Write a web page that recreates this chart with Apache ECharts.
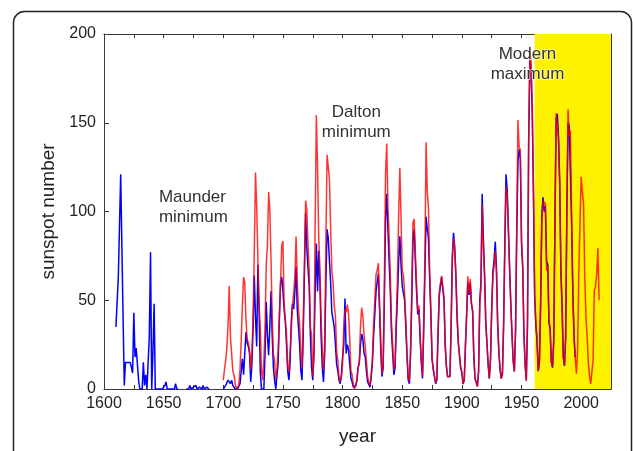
<!DOCTYPE html>
<html><head><meta charset="utf-8">
<script src="https://cdn.jsdelivr.net/npm/echarts@6/dist/echarts.min.js"></script>
<style>html,body{margin:0;padding:0;background:#fff}#c{width:633px;height:451px}</style>
</head><body><div id="c"></div>
<script>
// ---- data ----
const redStartYear = 1700;
const redValues = [
5,11,16,23,36,58,29,20,10,8,
3,0,0,2,11,27,47,63,60,39,
28,26,22,11,21,40,78,122,103,73,
47,35,11,5,16,34,70,81,111,101,
73,40,20,16,5,11,22,40,60,80.9,
83.4,47.7,47.8,30.7,12.2,9.6,10.2,32.4,47.6,54.0,
62.9,85.9,61.2,45.1,36.4,20.9,11.4,37.8,69.8,106.1,
100.8,81.6,66.5,34.8,30.6,7.0,19.8,92.5,154.4,125.9,
84.8,68.1,38.5,22.8,10.2,24.1,82.9,132.0,130.9,118.1,
89.9,66.6,60.0,46.9,41.0,21.3,16.0,6.4,4.1,6.8,
14.5,34.0,45.0,43.1,47.5,42.2,28.1,10.1,8.1,2.5,
0.0,1.4,5.0,12.2,13.9,35.4,45.8,41.1,30.1,23.9,
15.6,6.6,4.0,1.8,8.5,16.6,36.3,49.6,64.2,67.0,
70.9,47.8,27.5,8.5,13.2,56.9,121.5,138.3,103.2,85.7,
64.6,36.7,24.2,10.7,15.0,40.1,61.5,98.5,124.7,96.3,
66.6,64.5,54.1,39.0,20.6,6.7,4.3,22.7,54.8,93.8,
95.8,77.2,59.1,44.0,47.0,30.5,16.3,7.3,37.6,74.0,
139.0,111.2,101.6,66.2,44.7,17.0,11.3,12.4,3.4,6.0,
32.3,54.3,59.7,63.7,63.5,52.2,25.4,13.1,6.8,6.3,
7.1,35.6,73.0,85.1,78.0,64.0,41.8,26.2,26.7,12.1,
9.5,2.7,5.0,24.4,42.0,63.5,53.8,62.0,48.5,43.9,
18.6,5.7,3.6,1.4,9.6,47.4,57.1,103.9,80.6,63.6,
37.6,26.1,14.2,5.8,16.7,44.3,63.9,69.0,77.8,64.9,
35.7,21.2,11.1,5.7,8.7,36.1,79.7,114.4,109.6,88.8,
67.8,47.5,30.6,16.3,9.6,33.2,92.6,151.6,136.3,134.7,
83.9,69.4,31.5,13.9,4.4,38.0,141.7,190.2,184.8,159.0,
112.3,53.9,37.6,27.9,10.2,15.1,47.0,93.8,105.9,105.5,
104.5,66.6,68.9,38.0,34.5,15.5,12.6,27.5,92.5,155.4,
154.6,140.4,115.9,66.6,45.9,17.9,13.4,29.4,100.2,157.6,
142.6,145.7,94.3,54.6,29.9,17.5,8.6,21.5,64.3,93.3,
119.6,111.0,104.0,63.7,40.4,29.8,15.2,7.5,2.9,3.1,
16.5,55.7,57.6,64.7,79.3,50
];
const blueStartYear = 1610;
const blueValues = [
35,34,63,92,121,80,40,2,15,15,
15,15,15,15,9,43,18,23,24,5,
0,0,0,15,2,8,0,0,30,77,
0,20,48,0,0,0,0,0,0,0,
0,2,4,0,0,0,0,0,0,0,
3,0,0,null,null,null,null,null,null,0,
0,0,2,0,0,1,0,2,0,0,
1,0,0,2,0,0,1,0,0,null,
null,null,null,null,null,null,null,null,null,null,
0,1,2,3,5,5,3,5,2,1,
0,0,0,0,3,10,17,8,20,32,
26,24,20,4,14,35,64,40,24,70,
45,10,0,0,0,20,49,30,19,35,
55,30,12,5,0,0,15,40,60,63,
55,45,38,25,10,5,15,38,48,45,
55,69,45,35,25,10,5,30,65,99,
80,68,58,30,12,5,20,55,82,55,
78,60,30,12,4,20,60,90,85,72,
60,43,42,35,25,14,10,5,3,8,
18,25,51,20,25,22,14,6,4,1,
0,2,5,12,15,25,31,28,20,18,
10,4,3,1,7,15,30,42,55,60,
65,45,22,7,12,50,95,110,90,72,
55,32,20,8,12,35,52,72,86,70,
58,58,50,35,18,5,3,20,50,85,
90,72,55,42,45,28,15,6,33,65,
97,90,85,62,42,17,11,12,3,5,
30,52,58,63,62,50,25,13,7,6,
7,36,75,88,80,63,40,26,25,12,
9,3,5,25,42,60,53,60,48,44,
19,6,4,1.5,10,50,60,110,85,65,
38,26,14,6,17,45,66,73,83,68,
37,21,11,6,9,37,82,121,112,90,
68,48,31,16,10,33,88,128,135,130,
82,68,31,14,5,37,140,185,180,155,
110,52,36,27,10,15,48,98,108,100,
103,72,70,38,33,15,12,27,92,152,
155,142,116,67,46,18,13,29,100,150,
148,147,94,55,30,18
];
const xTickLabels = [1600,1650,1700,1750,1800,1850,1900,1950,2000];
const yTickLabels = [0,50,100,150,200];
const modernPeriod = [1961, 2025];
const notes = [
  {lines:['Maunder','minimum'], year:1646, value:102.5, align:'left'},
  {lines:['Dalton','minimum'], year:1811.5, value:150.5, align:'center'},
  {lines:['Modern','maximum'], year:1955, value:183, align:'center'}
];

// ---- build ----
const redData = redValues.map((v,i)=>[redStartYear+i, v]);
const blueData = blueValues.map((v,i)=>[blueStartYear+i, v]);
const FONT = '"Liberation Sans", Arial, sans-serif';
const axisColor = '#3a3a3a';
const chart = echarts.init(document.getElementById('c'), null, {renderer:'canvas'});
const xLabelFmt = v => xTickLabels.indexOf(v) >= 0 ? String(v) : '';
const yLabelFmt = v => yTickLabels.indexOf(v) >= 0 ? String(v) : '';
const xBase = {type:'value', min:1600, max:2025, interval:25, splitLine:{show:false},
  axisLine:{show:true, onZero:false, lineStyle:{color:axisColor, width:1}},
  axisTick:{show:true, inside:true, length:4, lineStyle:{color:axisColor}}};
const yBase = {type:'value', min:0, max:200, interval:50, splitLine:{show:false},
  axisLine:{show:true, lineStyle:{color:axisColor, width:1}},
  axisTick:{show:true, inside:true, length:5, lineStyle:{color:axisColor}}};
chart.setOption({
  animation:false,
  backgroundColor:'#fff',
  grid:{left:104, right:22, top:34, bottom:55, containLabel:false},
  xAxis:[
    Object.assign({}, xBase, {position:'bottom', name:'year', nameLocation:'middle', nameGap:38,
      nameTextStyle:{fontSize:19, color:'#222', fontFamily:FONT},
      axisLabel:{formatter:xLabelFmt, fontSize:16, color:'#222', fontFamily:FONT, margin:7, showMaxLabel:true}}),
    Object.assign({}, xBase, {position:'top', axisLabel:{show:false}})
  ],
  yAxis:[
    Object.assign({}, yBase, {position:'left', name:'sunspot number', nameLocation:'middle', nameGap:41,
      nameTextStyle:{fontSize:19, color:'#222', fontFamily:FONT},
      axisLabel:{formatter:yLabelFmt, fontSize:16, color:'#222', fontFamily:FONT, margin:8}}),
    Object.assign({}, yBase, {position:'right', axisLabel:{show:false}})
  ],
  series:[
    {type:'line', name:'modern', data:[], silent:true, z:1,
      markArea:{silent:true, itemStyle:{color:'#FFF200', opacity:1},
        data:[[{xAxis:modernPeriod[0], yAxis:0},{xAxis:modernPeriod[1], yAxis:200}]]}},
    {type:'line', name:'group', data:blueData, showSymbol:false, symbol:'none', z:3,
      connectNulls:false, lineStyle:{color:'#0000FF', width:1.5}, itemStyle:{color:'#0000FF'}},
    {type:'line', name:'wolf', data:redData, showSymbol:false, symbol:'none', z:4,
      lineStyle:{color:'#FF0000', width:1.5, opacity:0.8}, itemStyle:{color:'#FF0000'}}
  ]
});
// annotations anchored to data coordinates
const g = [];
notes.forEach(n=>{
  const p = chart.convertToPixel({xAxisIndex:0, yAxisIndex:0}, [n.year, n.value]);
  g.push({type:'text', z:10, x:p[0], y:p[1], style:{text:n.lines.join('\n'), fill:'#333',
    font:'17px '+FONT, align:n.align, verticalAlign:'middle', lineHeight:20,
    stroke: n.lines[0]==='Modern' ? 'rgba(255,255,255,0.6)' : null, lineWidth: n.lines[0]==='Modern'?2:0}});
});
g.push({type:'rect', z:20, silent:true, shape:{x:13.5, y:11.5, width:618, height:520, r:11},
  style:{fill:'none', stroke:'#222', lineWidth:1.5}});
chart.setOption({graphic:g});
</script></body></html>
